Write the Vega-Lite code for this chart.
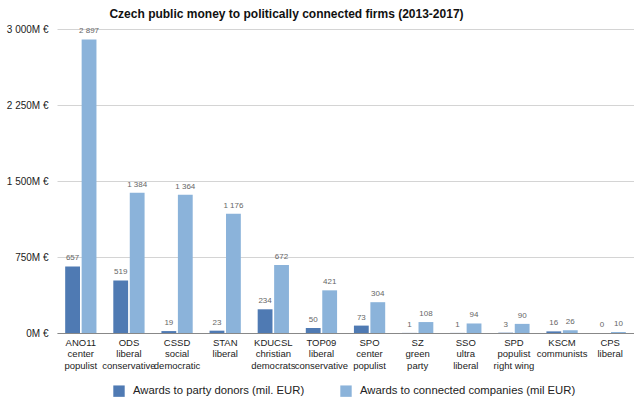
{
  "$schema": "https://vega.github.io/schema/vega-lite/v6.json",
  "autosize": "none",
  "width": 577,
  "height": 304,
  "padding": {"left": 57, "top": 29, "right": 0, "bottom": 64},
  "background": "white",
  "config": {
    "font": "Liberation Sans",
    "view": {"stroke": null}
  },
  "title": {
    "text": "Czech public money to politically connected firms (2013-2017)",
    "fontSize": 12,
    "fontWeight": "bold",
    "color": "#111",
    "anchor": "middle",
    "dx": -59,
    "offset": 3
  },
  "data": {
    "values": [
      {"party": "ANO11|center|populist", "series": "Awards to party donors (mil. EUR)", "value": 657},
      {"party": "ANO11|center|populist", "series": "Awards to connected companies (mil EUR)", "value": 2897},
      {"party": "ODS|liberal|conservative", "series": "Awards to party donors (mil. EUR)", "value": 519},
      {"party": "ODS|liberal|conservative", "series": "Awards to connected companies (mil EUR)", "value": 1384},
      {"party": "CSSD|social|democratic", "series": "Awards to party donors (mil. EUR)", "value": 19},
      {"party": "CSSD|social|democratic", "series": "Awards to connected companies (mil EUR)", "value": 1364},
      {"party": "STAN|liberal", "series": "Awards to party donors (mil. EUR)", "value": 23},
      {"party": "STAN|liberal", "series": "Awards to connected companies (mil EUR)", "value": 1176},
      {"party": "KDUCSL|christian|democrats", "series": "Awards to party donors (mil. EUR)", "value": 234},
      {"party": "KDUCSL|christian|democrats", "series": "Awards to connected companies (mil EUR)", "value": 672},
      {"party": "TOP09|liberal|conservative", "series": "Awards to party donors (mil. EUR)", "value": 50},
      {"party": "TOP09|liberal|conservative", "series": "Awards to connected companies (mil EUR)", "value": 421},
      {"party": "SPO|center|populist", "series": "Awards to party donors (mil. EUR)", "value": 73},
      {"party": "SPO|center|populist", "series": "Awards to connected companies (mil EUR)", "value": 304},
      {"party": "SZ|green|party", "series": "Awards to party donors (mil. EUR)", "value": 1},
      {"party": "SZ|green|party", "series": "Awards to connected companies (mil EUR)", "value": 108},
      {"party": "SSO|ultra|liberal", "series": "Awards to party donors (mil. EUR)", "value": 1},
      {"party": "SSO|ultra|liberal", "series": "Awards to connected companies (mil EUR)", "value": 94},
      {"party": "SPD|populist|right wing", "series": "Awards to party donors (mil. EUR)", "value": 3},
      {"party": "SPD|populist|right wing", "series": "Awards to connected companies (mil EUR)", "value": 90},
      {"party": "KSCM|communists", "series": "Awards to party donors (mil. EUR)", "value": 16},
      {"party": "KSCM|communists", "series": "Awards to connected companies (mil EUR)", "value": 26},
      {"party": "CPS|liberal", "series": "Awards to party donors (mil. EUR)", "value": 0},
      {"party": "CPS|liberal", "series": "Awards to connected companies (mil EUR)", "value": 10}
    ]
  },
  "transform": [
    {"calculate": "replace(format(datum.value, ','), ',', ' ')", "as": "lbl"}
  ],
  "encoding": {
    "x": {
      "field": "party",
      "type": "nominal",
      "sort": null,
      "scale": {"paddingInner": 0.35, "paddingOuter": 0.17},
      "axis": {
        "title": null,
        "labelAngle": 0,
        "labelExpr": "split(datum.label, '|')",
        "labelFontSize": 9.5,
        "labelColor": "#222",
        "labelLineHeight": 11.5,
        "labelPadding": 4,
        "ticks": false,
        "domainColor": "#888",
        "domainWidth": 1
      }
    },
    "xOffset": {
      "field": "series",
      "type": "nominal",
      "sort": ["Awards to party donors (mil. EUR)", "Awards to connected companies (mil EUR)"],
      "scale": {"paddingInner": 0.1}
    },
    "y": {
      "field": "value",
      "type": "quantitative",
      "scale": {"domain": [0, 3000], "nice": false},
      "axis": {
        "title": null,
        "values": [0, 750, 1500, 2250, 3000],
        "labelExpr": "replace(format(datum.value, ','), ',', ' ') + 'M €'",
        "labelFontSize": 10,
        "labelColor": "#222",
        "labelPadding": 9,
        "domain": false,
        "ticks": false,
        "gridColor": "#d4d4d4",
        "gridWidth": 1
      }
    }
  },
  "layer": [
    {
      "mark": {"type": "bar"},
      "encoding": {
        "color": {
          "field": "series",
          "type": "nominal",
          "sort": ["Awards to party donors (mil. EUR)", "Awards to connected companies (mil EUR)"],
          "scale": {"range": ["#4f7ab3", "#8bb3da"]},
          "legend": {
            "title": null,
            "orient": "none",
            "legendX": 56,
            "legendY": 356,
            "direction": "horizontal",
            "symbolType": "square",
            "symbolSize": 130,
            "symbolStrokeWidth": 0,
            "labelFontSize": 11.3,
            "labelColor": "#222",
            "labelOffset": 8,
            "columnPadding": 35,
            "labelLimit": 400
          }
        }
      }
    },
    {
      "mark": {"type": "text", "dy": -4, "baseline": "bottom", "fontSize": 8, "color": "#666"},
      "encoding": {
        "text": {"field": "lbl", "type": "nominal"}
      }
    }
  ]
}
